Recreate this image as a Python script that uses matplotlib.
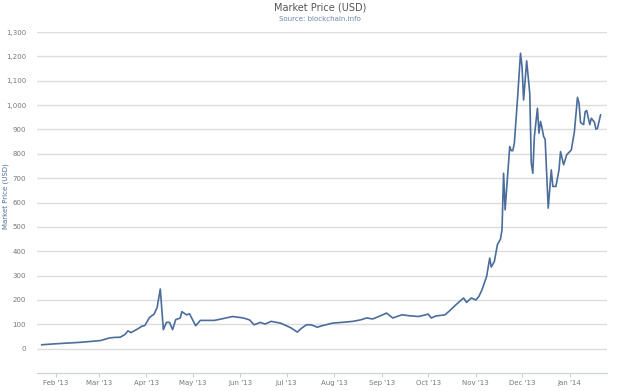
import pandas as pd
import matplotlib.pyplot as plt
import matplotlib.dates as mdates
from matplotlib.ticker import FuncFormatter

dates = [
    '2013-01-23', '2013-02-01', '2013-02-17', '2013-03-02', '2013-03-08', '2013-03-11',
    '2013-03-15', '2013-03-18', '2013-03-20', '2013-03-22', '2013-03-26', '2013-03-29',
    '2013-03-31', '2013-04-03', '2013-04-06', '2013-04-08', '2013-04-10', '2013-04-12',
    '2013-04-14', '2013-04-16', '2013-04-18', '2013-04-20', '2013-04-23', '2013-04-24',
    '2013-04-27', '2013-04-29', '2013-05-03', '2013-05-06', '2013-05-15', '2013-05-19',
    '2013-05-27', '2013-06-03', '2013-06-07', '2013-06-10', '2013-06-14', '2013-06-17',
    '2013-06-21', '2013-06-27', '2013-07-01', '2013-07-04', '2013-07-08', '2013-07-11',
    '2013-07-14', '2013-07-17', '2013-07-21', '2013-07-24', '2013-07-31', '2013-08-06',
    '2013-08-13', '2013-08-18', '2013-08-22', '2013-08-26', '2013-08-31', '2013-09-04',
    '2013-09-08', '2013-09-14', '2013-09-19', '2013-09-25', '2013-10-01', '2013-10-03',
    '2013-10-06', '2013-10-12', '2013-10-15', '2013-10-19', '2013-10-24', '2013-10-26',
    '2013-10-29', '2013-11-01', '2013-11-03', '2013-11-05', '2013-11-08', '2013-11-10',
    '2013-11-11', '2013-11-13', '2013-11-15', '2013-11-17', '2013-11-18', '2013-11-19',
    '2013-11-20', '2013-11-23', '2013-11-24', '2013-11-25', '2013-11-26', '2013-11-28',
    '2013-11-30', '2013-12-01', '2013-12-02', '2013-12-04', '2013-12-06', '2013-12-07',
    '2013-12-08', '2013-12-09', '2013-12-11', '2013-12-12', '2013-12-13', '2013-12-14',
    '2013-12-15', '2013-12-16', '2013-12-18', '2013-12-20', '2013-12-21', '2013-12-23',
    '2013-12-24', '2013-12-25', '2013-12-26', '2013-12-28', '2013-12-30', '2014-01-02',
    '2014-01-04', '2014-01-06', '2014-01-07', '2014-01-08', '2014-01-10', '2014-01-11',
    '2014-01-12', '2014-01-14', '2014-01-15', '2014-01-17', '2014-01-18', '2014-01-19',
    '2014-01-21',
]
prices = [
    16, 20, 26, 33, 44, 46,
    47, 58, 73, 66, 80, 92,
    95, 128, 142, 170, 245, 78,
    108, 108, 78, 119, 126, 152,
    139, 143, 94, 116, 116, 121,
    132, 126, 118, 98, 108, 101,
    112, 105, 94, 85, 68, 85,
    98, 98, 88, 94, 105, 108,
    112, 118, 126, 122, 135, 146,
    126, 139, 135, 132, 142, 126,
    134, 139, 156, 180, 208, 190,
    208, 200, 215, 242, 297, 372,
    335, 358, 427, 450, 490, 720,
    570, 830, 813, 813, 844, 1021,
    1213, 1158, 1021, 1182, 1049, 762,
    720, 871, 987, 885, 933, 906,
    871, 860, 577, 734, 666, 666,
    700, 734, 809, 755, 796, 816,
    891, 1032, 1008, 928, 920, 973,
    978, 920, 946, 930, 901, 905,
    960,
]

x = pd.to_datetime(dates)

fig = plt.figure(figsize=(6.4, 3.91), dpi=100)
ax = fig.add_axes([0.058, 0.046, 0.89, 0.872])

ax.plot(x, prices, color='#4a6d9c', linewidth=1.2)

ax.set_ylim(-100, 1300)
ax.set_yticks(range(0, 1301, 100))
ax.yaxis.set_major_formatter(FuncFormatter(lambda v, p: f'{int(v):,}'))
ax.set_xlim(pd.Timestamp('2013-01-20'), pd.Timestamp('2014-01-25'))
ax.xaxis.set_major_locator(mdates.MonthLocator())
ax.xaxis.set_major_formatter(mdates.DateFormatter("%b '%y"))

ax.grid(axis='y', color='#dcdcdc', linewidth=1)
ax.set_axisbelow(True)
for s in ['top', 'right', 'left']:
    ax.spines[s].set_visible(False)
ax.spines['bottom'].set_color('#c8d0da')
ax.tick_params(axis='y', length=0, labelsize=5, labelcolor='#777777', pad=8)
ax.tick_params(axis='x', length=3, color='#c8d0da', labelsize=5, labelcolor='#777777', pad=2)

ax.set_ylabel('Market Price (USD)', fontsize=5, color='#4d6e99')
ax.yaxis.set_label_coords(-0.05, 0.52)
fig.text(0.5, 0.972, 'Market Price (USD)', ha='center', fontsize=7, color='#555555')
fig.text(0.5, 0.947, 'Source: blockchain.info', ha='center', fontsize=5, color='#6d87a8')

fig.savefig('out.png', dpi=100)
